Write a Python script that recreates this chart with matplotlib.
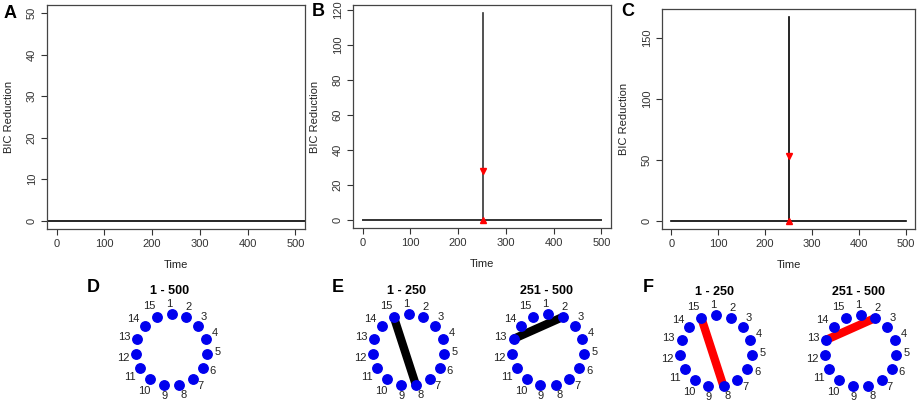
import numpy as np
import matplotlib.pyplot as plt

plt.rcParams['font.family'] = ['Liberation Sans', 'DejaVu Sans']

W, H = 921, 403

# ---- top row: BIC reduction scans ----
time_span = [0, 500]
xticks = [0, 100, 200, 300, 400, 500]
yticks_A = [0, 10, 20, 30, 40, 50]
yticks_B = [0, 20, 40, 60, 80, 100, 120]
yticks_C = [0, 50, 100, 150]
ymax_A = 50

cp_B = 252
peak_B = 118
mark_B = 28

cp_C = 250
peak_C = 167
mark_C = 53

# ---- bottom row: networks of 15 nodes ----
n_nodes = 15
node_ids = list(range(1, n_nodes + 1))
titles_D = ["1 - 500"]
titles_EF = ["1 - 250", "251 - 500"]
edges_EF = [(15, 8), (13, 2)]


def px_axes(fig, left, top, right, bottom):
    return fig.add_axes([left / W, 1 - bottom / H, (right - left) / W, (bottom - top) / H])


def style_top(ax, ymax, yticks):
    ax.set_xlim(-20, 520)
    ax.set_ylim(-0.04 * ymax, 1.04 * ymax)
    ax.set_xticks(xticks)
    ax.set_yticks(yticks)
    ax.tick_params(direction='out', length=4.3, width=0.8, labelsize=8,
                   colors='#333333', pad=3)
    ax.tick_params(axis='y', labelrotation=90)
    for lab in ax.get_yticklabels():
        lab.set_va('center')
    for s in ax.spines.values():
        s.set_color('#444444')
        s.set_linewidth(0.9)
    ax.set_xlabel('Time', fontsize=8, labelpad=8, color='#222222')
    ax.set_ylabel('BIC Reduction', fontsize=8, labelpad=9, color='#222222')


fig = plt.figure(figsize=(W / 100, H / 100), dpi=100)

# A
axA = px_axes(fig, 47, 5, 305, 229)
axA.axhline(0, color='black', lw=1.2)
style_top(axA, ymax_A, yticks_A)

# B
axB = px_axes(fig, 353, 5, 611, 228)
axB.plot(time_span, [0, 0], color='#333333', lw=1.4)
axB.plot([cp_B, cp_B], [0, peak_B], color='#333333', lw=1.2)
axB.plot([cp_B], [mark_B], marker='v', color='red', ms=5, ls='none')
axB.plot([cp_B], [0], marker='^', color='red', ms=5, ls='none')
style_top(axB, peak_B, yticks_B)

# C
axC = px_axes(fig, 662, 9, 915, 229)
axC.plot(time_span, [0, 0], color='black', lw=1.2)
axC.plot([cp_C, cp_C], [0, peak_C], color='black', lw=1.2)
axC.plot([cp_C], [mark_C], marker='v', color='red', ms=5, ls='none')
axC.plot([cp_C], [0], marker='^', color='red', ms=5, ls='none')
style_top(axC, peak_C, yticks_C)

for letter, x, y in [('A', 10, 13), ('B', 318, 12), ('C', 628, 12),
                     ('D', 93, 288), ('E', 338, 288), ('F', 648, 288)]:
    fig.text(x / W, 1 - y / H, letter, fontsize=13, fontweight='bold',
             ha='center', va='center')

# node layout on a circle, 1 at the top, clockwise
angles = np.deg2rad(90 - (np.array(node_ids) - 1) * 360 / n_nodes)
node_x = np.cos(angles)
node_y = np.sin(angles)


def draw_graph(cx, cy, title, edge=None, edge_color='black'):
    size = 130
    ax = px_axes(fig, cx - size / 2, cy - size / 2, cx + size / 2, cy + size / 2)
    ax.set_xlim(-1.8, 1.8)
    ax.set_ylim(-1.8, 1.8)
    ax.axis('off')
    if edge is not None:
        i, j = edge[0] - 1, edge[1] - 1
        ax.plot([node_x[i], node_x[j]], [node_y[i], node_y[j]],
                color=edge_color, lw=6, solid_capstyle='butt', zorder=1)
    ax.plot(node_x, node_y, 'o', color='#0000ee', ms=6.8, mec='#0000ee', zorder=2)
    for k, lab in enumerate(node_ids):
        txt = str(lab)
        r = 1.28 if len(txt) == 1 else 1.36
        a = angles[k] + np.deg2rad(3)
        ax.text(r * np.cos(a), r * np.sin(a), txt, fontsize=8, color='#222222',
                ha='center', va='center')
    ax.text(-0.05, 1.64, title, fontsize=9, fontweight='bold', ha='center', va='center')


draw_graph(171.5, 350, titles_D[0])
draw_graph(408.5, 350, titles_EF[0], edges_EF[0], 'black')
draw_graph(548, 350, titles_EF[1], edges_EF[1], 'black')
draw_graph(716, 351, titles_EF[0], edges_EF[0], 'red')
draw_graph(860.5, 351, titles_EF[1], edges_EF[1], 'red')

fig.savefig('out.png', dpi=100)
